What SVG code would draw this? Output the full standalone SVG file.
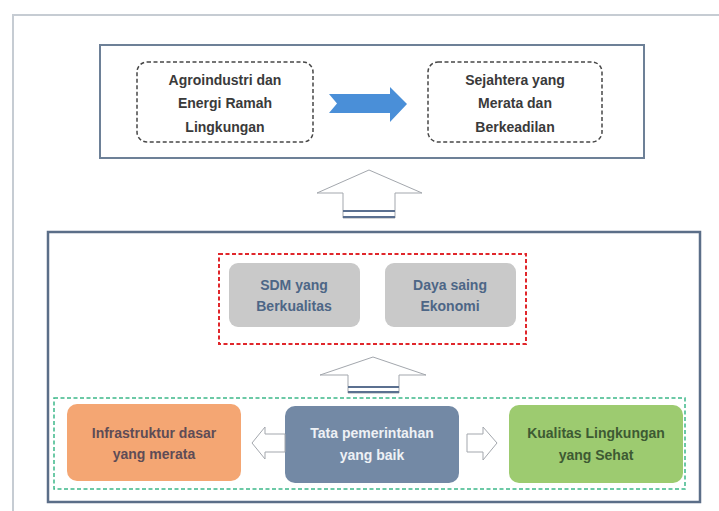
<svg xmlns="http://www.w3.org/2000/svg" width="719" height="511" viewBox="0 0 719 511">
  <style>
    text { font-family: "Liberation Sans", Arial, sans-serif; font-size: 14px; font-weight: bold; text-anchor: middle; }
    .dark { fill: #3a3a3a; }
    .steel { fill: #4d6686; }
    .white { fill: #eef1f5; }
    .brown { fill: #5e4c56; }
    .dgreen { fill: #3d5a33; }
    .dashbox { fill: #ffffff; stroke: #474747; stroke-width: 1.5; stroke-dasharray: 4 2.5; }
    .outline { fill: #ffffff; stroke: #a3a7ad; stroke-width: 1; }
    .base { stroke: #5b7090; stroke-width: 1.8; }
  </style>
  <rect x="0" y="0" width="719" height="511" fill="#ffffff"/>
  <path d="M13 511 V15 H719" fill="none" stroke="#c6ccd3" stroke-width="2"/>

  <g id="top-frame">
    <rect x="100" y="45" width="544" height="113" fill="#ffffff" stroke="#6d8097" stroke-width="2"/>
  </g>
  <g id="agroindustri">
    <rect class="dashbox" x="137" y="62" width="176" height="80" rx="10"/>
    <text class="dark" x="225" y="85">Agroindustri dan</text>
    <text class="dark" x="225" y="108">Energi Ramah</text>
    <text class="dark" x="225" y="132">Lingkungan</text>
  </g>
  <g id="sejahtera">
    <rect class="dashbox" x="428" y="62" width="174" height="80" rx="10"/>
    <text class="dark" x="515" y="85">Sejahtera yang</text>
    <text class="dark" x="515" y="108">Merata dan</text>
    <text class="dark" x="515" y="132">Berkeadilan</text>
  </g>

  <g id="bottom-frame">
    <rect x="48" y="232" width="652" height="270" fill="#ffffff" stroke="#5b6e88" stroke-width="2.5"/>
  </g>
  <g id="outcome-group">
    <rect x="219" y="254" width="307" height="90" fill="none" stroke="#e0262b" stroke-width="2" stroke-dasharray="4 2.5"/>
  </g>
  <g id="sdm">
    <rect x="229" y="263" width="131" height="64" rx="9" fill="#c9c9c9"/>
    <text class="steel" x="294" y="290">SDM yang</text>
    <text class="steel" x="294" y="311">Berkualitas</text>
  </g>
  <g id="daya-saing">
    <rect x="385" y="263" width="131" height="64" rx="9" fill="#c9c9c9"/>
    <text class="steel" x="450" y="290">Daya saing</text>
    <text class="steel" x="450" y="311">Ekonomi</text>
  </g>
  <g id="foundation-group">
    <rect x="54" y="398" width="631" height="91" fill="none" stroke="#3cb889" stroke-width="1.5" stroke-dasharray="4 2.5"/>
  </g>
  <g id="infrastruktur">
    <rect x="67" y="404" width="174" height="77" rx="10" fill="#f4a673"/>
    <text class="brown" x="154" y="438">Infrastruktur dasar</text>
    <text class="brown" x="154" y="459">yang merata</text>
  </g>
  <g id="tata-pemerintahan">
    <rect x="285" y="406" width="174" height="77" rx="10" fill="#7389a5"/>
    <text class="white" x="372" y="438">Tata pemerintahan</text>
    <text class="white" x="372" y="460">yang baik</text>
  </g>
  <g id="kualitas-lingkungan">
    <rect x="509" y="405" width="174" height="78" rx="10" fill="#9dcb70"/>
    <text class="dgreen" x="596" y="438">Kualitas Lingkungan</text>
    <text class="dgreen" x="596" y="460">yang Sehat</text>
  </g>

  <g id="connectors">
    <polygon points="329,94 390,94 390,87 407,104 390,122 390,113 329,113 337,103.5" fill="#4a8fd8"/>
    <polygon class="outline" points="369,170 422,193 395,193 395,218 343,218 343,193 317,193"/>
    <line class="base" x1="343" y1="211" x2="395" y2="211"/>
    <line class="base" x1="343" y1="217" x2="395" y2="217"/>
    <polygon class="outline" points="373,357 426,375 399,375 399,393 348,393 348,375 320,375"/>
    <line class="base" x1="348" y1="387" x2="399" y2="387"/>
    <line class="base" x1="348" y1="392" x2="399" y2="392"/>
    <polygon class="outline" points="252,443 265,427 265,434 285,434 285,452 265,452 265,459"/>
    <polygon class="outline" points="467,434 483,434 483,427 497,443 483,460 483,452 467,452"/>
  </g>
</svg>
